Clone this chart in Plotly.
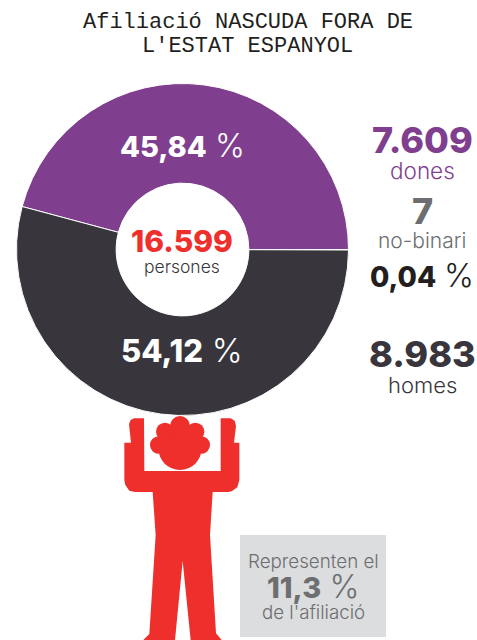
import plotly.graph_objects as go

categories = ["dones", "no-binari", "homes"]
persons = [7609, 7, 8983]
slice_colors = ["#7f3f8e", "#6d6e70", "#38353c"]
title_lines = ["Afiliació NASCUDA FORA DE", "L'ESTAT ESPANYOL"]
total_label = "16.599"
total_unit = "persones"
pct_labels = ["45,84", "0,04", "54,12"]
count_labels = ["7.609", "7", "8.983"]
share_label = "11,3"

W, H = 477, 640
BODY = "Inter"
RED = "#ee2f2b"

fig = go.Figure()
fig.add_trace(go.Pie(
    labels=categories, values=persons, sort=False, direction="clockwise",
    rotation=285, hole=0.4, textinfo="none", hoverinfo="none", showlegend=False,
    marker=dict(colors=slice_colors, line=dict(color="white", width=1)),
    domain=dict(x=[16.5 / W, 348.5 / W], y=[1 - 415.5 / H, 1 - 83.5 / H]),
))

ann = []
def text(x, y, s, size, color, family=BODY, weight=None):
    ann.append(dict(x=x / W, y=1 - y / H, xref="paper", yref="paper", text=s, showarrow=False,
                    xanchor="center", yanchor="middle", align="center",
                    font=dict(size=size, color=color, family=family, weight=weight)))

def heavy(value):
    return f"<span style='font-weight:800'>{value}</span>"

def pct(value, psize):
    return f"{heavy(value)} <span style='font-size:{psize}px;font-weight:300'>%</span>"

MONO = "Liberation Mono"
text(248, 22, title_lines[0], 22, "#231f20", MONO)
text(248, 46, title_lines[1], 22, "#231f20", MONO)

text(182, 145, pct(pct_labels[0], 32), 29, "white")
text(182, 350, pct(pct_labels[2], 33), 31, "white")
text(182, 241, heavy(total_label), 30, RED)
text(182, 266, total_unit, 17.5, "#38353c", weight=300)

text(422, 140, heavy(count_labels[0]), 36, slice_colors[0])
text(422, 170, categories[0], 22.5, slice_colors[0], weight=300)
text(422, 211, heavy(count_labels[1]), 36, slice_colors[1])
text(422, 240, categories[1], 21, slice_colors[1], weight=300)
text(422, 275, pct(pct_labels[1], 32), 28, "#231f20")
text(422, 354, heavy(count_labels[2]), 36, slice_colors[2])
text(422, 385, categories[2], 22, slice_colors[2], weight=300)

text(313, 561, "Representen el", 18.8, slice_colors[1], weight=300)
text(313, 586, pct(share_label, 32), 29, slice_colors[1])
text(313, 612, "de l'afiliació", 18.7, slice_colors[1], weight=300)

# Person icon (pixel positions on the page)
def px(x, y):
    return f"{x / W:.5f},{1 - y / H:.5f}"

def zpath(points):
    return "M" + " L".join(px(100 + a / 3, 400 + b / 3) for a, b in points) + " Z"

outline = [(87, 72), (92, 60), (102, 55), (132, 55), (133, 213), (362, 213), (362, 55), (392, 55),
           (404, 62), (408, 78), (402, 128), (418, 128), (418, 240), (412, 262), (395, 274), (385, 276),
           (338, 276), (330, 405), (348, 700), (365, 720), (272, 720), (248, 483), (225, 720),
           (130, 720), (148, 702), (167, 405), (158, 276), (105, 276), (88, 272), (76, 255), (73, 240),
           (73, 128), (93, 128)]
shapes = [dict(type="rect", xref="paper", yref="paper", x0=240 / W, x1=386 / W, y0=1 - 637 / H, y1=1 - 535 / H,
               fillcolor="#dcddde", line_width=0, layer="below"),
          dict(type="path", xref="paper", yref="paper", path=zpath(outline), fillcolor=RED, line_width=0)]
bumps = [(240, 145, 65), (240, 78, 30), (195, 95, 27), (286, 95, 27), (176, 135, 26), (304, 135, 26)]
for cx, cy, r in bumps:
    shapes.append(dict(type="circle", xref="paper", yref="paper",
                       x0=(100 + (cx - r) / 3) / W, x1=(100 + (cx + r) / 3) / W,
                       y0=1 - (400 + (cy + r) / 3) / H, y1=1 - (400 + (cy - r) / 3) / H,
                       fillcolor=RED, line_width=0))

fig.update_layout(width=W, height=H, margin=dict(l=0, r=0, t=0, b=0), paper_bgcolor="white",
                  annotations=ann, shapes=shapes)
fig.write_html("out.html", config={"displayModeBar": False},
               post_script="document.body.style.margin='0';document.body.style.overflow='hidden';")
